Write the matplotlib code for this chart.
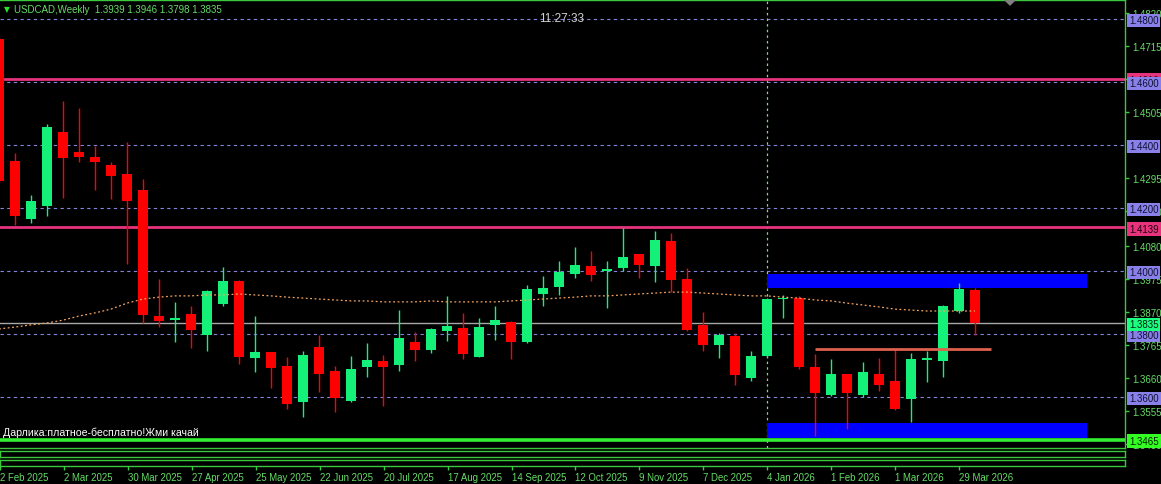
import numpy as np
import matplotlib.pyplot as plt
import matplotlib.transforms as mtransforms
from matplotlib.patches import Rectangle, Polygon

plt.rcParams['font.family'] = ['Liberation Sans', 'DejaVu Sans']

# weekly USDCAD candles, week 0 = 2 Feb 2025
opens = [1.4737, 1.4349, 1.4165, 1.4206, 1.4441, 1.4378, 1.4362, 1.4337, 1.4308, 1.4257,
         1.3857, 1.3844, 1.3863, 1.3797, 1.3895, 1.3968, 1.3724, 1.3743, 1.3698, 1.3584,
         1.3759, 1.3683, 1.3587, 1.3695, 1.3714, 1.3702, 1.3775, 1.3749, 1.3810, 1.3819,
         1.3727, 1.3829, 1.3838, 1.3775, 1.3927, 1.3949, 1.3990, 1.4016, 1.4000, 1.4010,
         1.4054, 1.4016, 1.4095, 1.3975, 1.3829, 1.3765, 1.3794, 1.3660, 1.3730, 1.3911,
         1.3914, 1.3695, 1.3606, 1.3673, 1.3606, 1.3673, 1.3651, 1.3594, 1.3717, 1.3714,
         1.3873, 1.3939]
highs = [1.4743, 1.4375, 1.4241, 1.4467, 1.4540, 1.4517, 1.4397, 1.4346, 1.4410, 1.4292,
         1.3975, 1.3902, 1.3889, 1.3940, 1.4013, 1.3971, 1.3857, 1.3743, 1.3727, 1.3746,
         1.3797, 1.3698, 1.3730, 1.3771, 1.3733, 1.3876, 1.3806, 1.3819, 1.3921, 1.3867,
         1.3851, 1.3889, 1.3841, 1.3956, 1.3984, 1.4032, 1.4076, 1.4063, 1.4032, 1.4137,
         1.4054, 1.4127, 1.4121, 1.4010, 1.3870, 1.3803, 1.3803, 1.3746, 1.3914, 1.3924,
         1.3921, 1.3737, 1.3721, 1.3673, 1.3711, 1.3724, 1.3752, 1.3740, 1.3746, 1.3892,
         1.3962, 1.3946]
lows = [1.4279, 1.4146, 1.4152, 1.4175, 1.4232, 1.4346, 1.4257, 1.4229, 1.4022, 1.3835,
        1.3822, 1.3775, 1.3756, 1.3746, 1.3889, 1.3705, 1.3679, 1.3629, 1.3562, 1.3537,
        1.3616, 1.3552, 1.3584, 1.3663, 1.3571, 1.3683, 1.3714, 1.3740, 1.3778, 1.3721,
        1.3727, 1.3781, 1.3721, 1.3771, 1.3889, 1.3924, 1.3978, 1.3968, 1.3883, 1.4000,
        1.3978, 1.3965, 1.3933, 1.3810, 1.3746, 1.3724, 1.3638, 1.3651, 1.3727, 1.3851,
        1.3689, 1.3476, 1.3603, 1.3498, 1.3600, 1.3619, 1.3559, 1.3521, 1.3648, 1.3663,
        1.3867, 1.3798]
closes = [1.4286, 1.4175, 1.4222, 1.4457, 1.4359, 1.4362, 1.4346, 1.4302, 1.4222, 1.3860,
          1.3841, 1.3851, 1.3813, 1.3937, 1.3968, 1.3727, 1.3743, 1.3692, 1.3578, 1.3733,
          1.3673, 1.3597, 1.3689, 1.3717, 1.3695, 1.3787, 1.3749, 1.3816, 1.3825, 1.3737,
          1.3822, 1.3844, 1.3775, 1.3943, 1.3946, 1.3997, 1.4019, 1.3987, 1.4006, 1.4044,
          1.4019, 1.4098, 1.3971, 1.3813, 1.3765, 1.3797, 1.3670, 1.3730, 1.3911, 1.3914,
          1.3695, 1.3613, 1.3673, 1.3613, 1.3679, 1.3638, 1.3562, 1.3721, 1.3724, 1.3889,
          1.3943, 1.3835]
ma = [1.3816, 1.3822, 1.3829, 1.3835, 1.3844, 1.3857, 1.3867, 1.3879, 1.3898, 1.3911,
      1.3917, 1.3921, 1.3921, 1.3924, 1.3924, 1.3927, 1.3924, 1.3921, 1.3917, 1.3914,
      1.3911, 1.3908, 1.3905, 1.3905, 1.3902, 1.3902, 1.3902, 1.3905, 1.3902, 1.3902,
      1.3902, 1.3902, 1.3905, 1.3908, 1.3911, 1.3914, 1.3917, 1.3921, 1.3921, 1.3924,
      1.3927, 1.3930, 1.3933, 1.3933, 1.3930, 1.3927, 1.3924, 1.3921, 1.3921, 1.3917,
      1.3914, 1.3908, 1.3905, 1.3898, 1.3892, 1.3886, 1.3879, 1.3876, 1.3873, 1.3873,
      1.3873, 1.3873]

date_labels = ['2 Feb 2025', '2 Mar 2025', '30 Mar 2025', '27 Apr 2025', '25 May 2025',
               '22 Jun 2025', '20 Jul 2025', '17 Aug 2025', '14 Sep 2025', '12 Oct 2025',
               '9 Nov 2025', '7 Dec 2025', '4 Jan 2026', '1 Feb 2026', '1 Mar 2026',
               '29 Mar 2026']
date_pos = list(range(0, 64, 4))

axis_ticks = [1.4820, 1.4715, 1.4610, 1.4505, 1.4295, 1.4190, 1.4080,
              1.3975, 1.3870, 1.3765, 1.3660, 1.3555, 1.3450]
grid_levels = [1.48, 1.46, 1.44, 1.42, 1.40, 1.38, 1.36]
pink_levels = [1.4610, 1.4139]
bid = 1.3835
support = 1.3465
zone_top = (48, 68, 1.3946, 1.3990)
zone_bottom = (48, 68, 1.3470, 1.3517)
res_line = (51, 62, 1.3752)
now_week = 48

W, H = 1161, 485
GREEN = '#3cc83c'
TXT = '#66dd66'
BULL = '#14f078'
BEAR = '#ff0000'
PINK = '#e6337c'

fig = plt.figure(figsize=(W / 100, H / 100), dpi=100, facecolor='black')


def fx(px):
    return px / W


def fy(py):
    return 1 - py / H


ax = fig.add_axes([0, fy(449), fx(1125), 448 / H])
ax.set_facecolor('black')
ax.set_xlim(1 / 16, 1 / 16 + 1125 / 16)
ax.set_ylim(1.48 - 429 / 3150, 1.48 + 19 / 3150)

for lv in grid_levels:
    ax.axhline(lv, color='#8484d8', lw=0.8, ls=(0, (3, 3)), zorder=1)
for lv in pink_levels:
    ax.axhline(lv, color=PINK, lw=2, zorder=1.5)
ax.axhline(bid, color='#a8a8a8', lw=1, zorder=1.2)
ax.axhline(support, color='#33ee33', lw=2.6, zorder=1.5)
ax.axvline(now_week, color='#7fdf7f', lw=0.9, ls=(0, (2, 2.5)), zorder=1)

for x0, x1, y0, y1 in [zone_top, zone_bottom]:
    ax.add_patch(Rectangle((x0, y0), x1 - x0, y1 - y0, color='#0000ff', zorder=1.3, lw=0))

x = np.arange(len(opens))
o = np.array(opens)
c = np.array(closes)
cols = [BULL if cc >= oo else BEAR for oo, cc in zip(o, c)]
ax.vlines(x, lows, highs, colors=cols, lw=1, zorder=2)
bottoms = np.minimum(o, c)
heights = np.maximum(np.abs(c - o), 0.0004)
ax.bar(x, heights, bottom=bottoms, width=0.66, color=cols, lw=0, zorder=2.2)

ax.plot(x, ma, color='#f4a460', lw=0.9, ls=(0, (1.5, 2)), zorder=2.5)
ax.hlines(res_line[2], res_line[0], res_line[1], color='#e0604e', lw=2, zorder=2.6)

ax.yaxis.tick_right()
ax.set_yticks(axis_ticks)
ax.set_yticklabels([f'{t:.4f}' for t in axis_ticks])
ax.tick_params(axis='y', colors=GREEN, labelcolor=TXT, length=3, width=1, pad=2,
               labelsize=7, direction='out')
ax.set_xticks([])
ax.spines['left'].set_visible(False)
for s in ['top', 'right', 'bottom']:
    ax.spines[s].set_color(GREEN)
    ax.spines[s].set_linewidth(1)

ytr = mtransforms.offset_copy(ax.get_yaxis_transform(), fig=fig, y=-1.5, units='dots')


def price_label(price, bg, fg='#101030', z=4):
    ax.text(1.0035, price, f'{price:.4f}', transform=ytr, ha='left', va='center',
            fontsize=7, color=fg, clip_on=False, zorder=z,
            bbox=dict(boxstyle='square,pad=0.2', fc=bg, ec='none'))


for lv in pink_levels:
    price_label(lv, PINK, '#200010', z=4)
for lv in grid_levels:
    price_label(lv, '#8a80ea', '#101030', z=5)
price_label(bid, '#1aff80', '#002010', z=6)
price_label(support, '#33ff22', '#002000', z=6)

# small indicator sub-windows below the price chart
for top, bot in [(452, 458), (461, 467)]:
    sub = fig.add_axes([0, fy(bot), fx(1125), (bot - top) / H])
    sub.set_facecolor('black')
    sub.set_xlim(ax.get_xlim())
    sub.set_yticks([])
    for s in sub.spines.values():
        s.set_color(GREEN)
        s.set_linewidth(1)
    sub.set_xticks([])
sub.set_xticks(date_pos)
sub.set_xticklabels(date_labels, ha='left')
sub.tick_params(axis='x', colors=GREEN, labelcolor=TXT, length=3, width=1, pad=1,
                labelsize=6.9, direction='out')

fig.text(fx(4), fy(10), '\u25bc', color='#2ee02e', fontsize=5.5, va='center', ha='left',
         family='DejaVu Sans')
fig.text(fx(14), fy(10), 'USDCAD,Weekly  1.3939 1.3946 1.3798 1.3835', color=TXT,
         fontsize=7, va='center', ha='left')
fig.text(fx(562), fy(19), '11:27:33', color='#d0d0d0', fontsize=8.5, va='center', ha='center')
fig.text(fx(3), fy(438), 'Дарлика:платное-бесплатно!Жми качай', color='white',
         fontsize=7.6, va='bottom', ha='left')
fig.add_artist(Polygon([[fx(1004), fy(0)], [fx(1016), fy(0)], [fx(1010), fy(6)]],
                       closed=True, color='#808080', transform=fig.transFigure))

fig.savefig('out.png', dpi=100, facecolor='black')
